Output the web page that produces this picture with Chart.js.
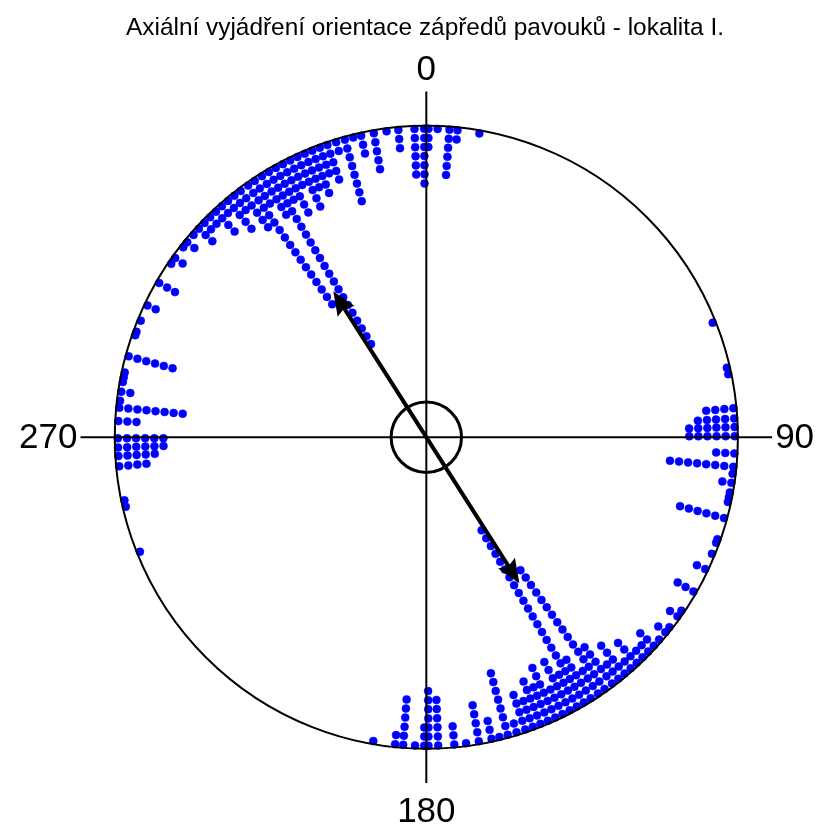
<!DOCTYPE html>
<html>
<head>
<meta charset="utf-8">
<title>Axiální vyjádření orientace zápředů pavouků</title>
<script src="https://cdn.jsdelivr.net/npm/chart.js@4.4.1/dist/chart.umd.min.js"></script>
<style>
  html, body { margin: 0; padding: 0; background: #fff; }
  #box { width: 821px; height: 828px; }
</style>
</head>
<body>
<div id="box"><canvas id="myChart" width="821" height="828"></canvas></div>
<script>
// bins read off one half of the plot (degrees, 0 = north, clockwise)
// data are axial -> every bin is drawn again at +180
const binAngles = [
  273.0, 275.5, 276.8, 278.5, 280.3, 281.2, 282.1, 285.2, 289.3, 290.0,
  292.2, 295.3, 300.0, 304.2, 305.5, 308.0, 309.2, 311.0, 312.5, 314.0,
  315.5, 317.0, 318.5, 320.0, 321.5, 323.0, 324.7, 326.2, 327.8, 329.3,
  330.8, 332.3, 333.8, 335.3, 336.8, 338.3, 339.8, 341.3, 343.0, 344.7,
  346.3, 347.8, 350.2, 352.6, 354.8, 357.8, 359.6, 0.4, 2.1, 4.3,
  5.8, 9.9, 68.2, 77.0, 78.2, 84.6, 86.5, 88.1, 89.8
];
const binCounts = [
  3, 8, 1, 2, 1, 1, 1, 6, 1, 1,
  1, 2, 3, 1, 2, 1, 2, 1, 3, 2,
  2, 4, 2, 5, 3, 6, 17, 4, 6, 23,
  5, 7, 4, 7, 5, 6, 4, 5, 2, 8,
  1, 3, 5, 1, 3, 6, 7, 3, 1, 6,
  2, 1, 1, 1, 1, 4, 5, 6, 6
];

// mean axis (arrow) and the small circle in the middle, as a share of the radius
const meanAngle = 327.5;
const meanLength = 0.556;
const innerCircle = 0.113;

const axisLabels = ['0', '90', '180', '270'];
const chartTitle = 'Axiální vyjádření orientace zápředů pavouků - lokalita I.';

// where the circle sits on the canvas
const centreX = 426.5, centreY = 437.5, radiusPx = 315;
const firstRing = 0.99;   // first dot just inside the circle
const dotStep = 0.0292;   // gap between stacked dots
const axisReach = 1.11;   // the cross goes a bit past the circle

function rad(d) { return d * Math.PI / 180; }

// stacked dots, pushed inward from the rim
let points = [];
binAngles.forEach((a, i) => {
  [a, a + 180].forEach(b => {
    for (let k = 0; k < binCounts[i]; k++) {
      const r = firstRing - k * dotStep;
      points.push({x: r * Math.sin(rad(b)), y: r * Math.cos(rad(b))});
    }
  });
});

const data = {
  datasets: [{
    label: 'zápředy',
    data: points,
    pointStyle: 'circle',
    pointRadius: 4,
    pointBackgroundColor: '#0000ff',
    pointBorderColor: '#0000ff',
    pointBorderWidth: 0.5,
    showLine: false
  }]
};

function arrowHead(ctx, tx, ty, ang, len, half) {
  const c = Math.cos(ang), s = Math.sin(ang);
  ctx.beginPath();
  ctx.moveTo(tx, ty);
  ctx.lineTo(tx - len * c + half * s, ty - len * s - half * c);
  ctx.lineTo(tx - 0.85 * len * c, ty - 0.85 * len * s);
  ctx.lineTo(tx - len * c - half * s, ty - len * s + half * c);
  ctx.closePath();
  ctx.fill();
}

// circle, cross, labels, mean axis
const Cadre = {
  id: 'Cadre',
  afterDatasetsDraw(chart) {
    const {ctx, scales: {x, y}} = chart;
    const cx = x.getPixelForValue(0), cy = y.getPixelForValue(0);
    const R = x.getPixelForValue(1) - cx;
    ctx.save();
    ctx.strokeStyle = '#000';
    ctx.fillStyle = '#000';

    ctx.lineWidth = 2;
    ctx.beginPath();
    ctx.arc(cx, cy, R, 0, 2 * Math.PI);
    ctx.stroke();

    ctx.lineWidth = 2;
    ctx.beginPath();
    ctx.moveTo(cx, y.getPixelForValue(axisReach));
    ctx.lineTo(cx, y.getPixelForValue(-axisReach));
    ctx.moveTo(x.getPixelForValue(-axisReach), cy);
    ctx.lineTo(x.getPixelForValue(axisReach), cy);
    ctx.stroke();

    // mean axis, both ways
    const m = rad(meanAngle);
    const tx = x.getPixelForValue(meanLength * Math.sin(m));
    const ty = y.getPixelForValue(meanLength * Math.cos(m));
    const bx = 2 * cx - tx, by = 2 * cy - ty;
    const ang = Math.atan2(ty - cy, tx - cx);
    ctx.lineWidth = 4;
    ctx.beginPath();
    ctx.moveTo(cx + (tx - cx) * 0.92, cy + (ty - cy) * 0.92);
    ctx.lineTo(cx + (bx - cx) * 0.92, cy + (by - cy) * 0.92);
    ctx.stroke();
    arrowHead(ctx, tx, ty, ang, 24, 10);
    arrowHead(ctx, bx, by, ang + Math.PI, 24, 10);

    ctx.lineWidth = 3;
    ctx.beginPath();
    ctx.arc(cx, cy, innerCircle * R, 0, 2 * Math.PI);
    ctx.stroke();

    // labels
    ctx.font = '35px "Liberation Sans", Arial, sans-serif';
    ctx.textBaseline = 'alphabetic';
    ctx.textAlign = 'center';
    ctx.fillText(axisLabels[0], cx, 80);
    ctx.fillText(axisLabels[2], cx, 822);
    ctx.textBaseline = 'middle';
    ctx.textAlign = 'left';
    ctx.fillText(axisLabels[1], x.getPixelForValue(axisReach) + 3, cy + 1);
    ctx.textAlign = 'right';
    ctx.fillText(axisLabels[3], x.getPixelForValue(-axisReach) - 3, cy + 1);

    ctx.font = '24.4px "Liberation Sans", Arial, sans-serif';
    ctx.textAlign = 'center';
    ctx.textBaseline = 'alphabetic';
    ctx.fillText(chartTitle, 425, 35);
    ctx.restore();
  }
};

const config = {
  type: 'scatter',
  data,
  options: {
    responsive: false,
    animation: false,
    events: [],
    layout: { padding: 0 },
    scales: {
      x: { type: 'linear', display: false, min: -centreX / radiusPx, max: (821 - centreX) / radiusPx },
      y: { type: 'linear', display: false, min: -(828 - centreY) / radiusPx, max: centreY / radiusPx }
    },
    plugins: {
      legend: { display: false },
      tooltip: { enabled: false }
    }
  },
  plugins: [Cadre]
};

const myChart = new Chart(document.getElementById('myChart'), config);
</script>
</body>
</html>
